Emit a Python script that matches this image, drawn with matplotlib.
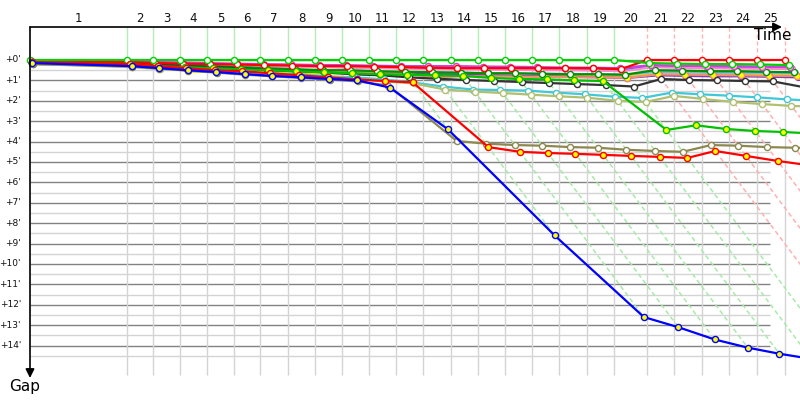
import numpy as np
import matplotlib
matplotlib.use('Agg')
import matplotlib.pyplot as plt

# ----------------------------------------------------------------
# Data: stage end times (race-time units, 1 unit = 1 minute of gap)
# and each rider's gap (minutes) at start + after each of 25 stages.
# ----------------------------------------------------------------
stage_end = [0.0, 6.34, 8.04, 9.80, 11.57, 13.33, 15.03, 16.86, 18.63, 20.39, 22.16,
             23.92, 25.69, 27.52, 29.28, 31.05, 32.81, 34.58, 36.41, 38.17, 40.33,
             42.09, 43.92, 45.69, 47.52, 49.35]
stage_labels = [str(i) for i in range(1, 26)]
gap_ticks = list(range(0, 15))
gap_labels = ["+%d'" % g for g in gap_ticks]

green_leader = [0, 0, 0, 0, 0, 0, 0, 0, 0, 0, 0, 0, 0, 0, 0, 0, 0, 0, 0, 0,
                0.15, 0.18, 0.2, 0.2, 0.22, 0.25]
red_winner = [0.05, 0.1, 0.15, 0.18, 0.2, 0.22, 0.25, 0.27, 0.3, 0.3, 0.32, 0.35, 0.38,
              0.4, 0.4, 0.4, 0.4, 0.4, 0.4, 0.45, 0, 0, 0, 0, 0, 0]
magenta = [0.05, 0.08, 0.1, 0.12, 0.15, 0.18, 0.2, 0.22, 0.25, 0.25, 0.28, 0.3, 0.3,
           0.3, 0.32, 0.33, 0.35, 0.37, 0.38, 0.4, 0.25, 0.28, 0.3, 0.3, 0.32, 0.35]
pink = [0.1, 0.15, 0.2, 0.22, 0.25, 0.28, 0.3, 0.33, 0.35, 0.38, 0.4, 0.42, 0.45,
        0.45, 0.47, 0.48, 0.5, 0.5, 0.52, 0.55, 0.35, 0.38, 0.4, 0.42, 0.43, 0.45]
royal = [0.1, 0.12, 0.15, 0.18, 0.2, 0.22, 0.25, 0.27, 0.3, 0.32, 0.35, 0.37, 0.4,
         0.4, 0.42, 0.43, 0.45, 0.45, 0.47, 0.5, 0.3, 0.32, 0.33, 0.35, 0.37, 0.38]
purple = [0.15, 0.2, 0.25, 0.3, 0.35, 0.4, 0.45, 0.5, 0.55, 0.6, 0.65, 0.68, 0.7,
          0.72, 0.75, 0.78, 0.8, 0.82, 0.85, 0.88, 0.75, 0.78, 0.8, 0.8, 0.82, 0.85]
dkgreen = [0.05, 0.15, 0.2, 0.25, 0.3, 0.35, 0.4, 0.45, 0.5, 0.5, 0.55, 0.58, 0.6,
           0.62, 0.65, 0.65, 0.68, 0.7, 0.7, 0.72, 0.5, 0.52, 0.55, 0.55, 0.58, 0.6]
orange = [0.05, 0.15, 0.22, 0.3, 0.35, 0.4, 0.44, 0.49, 0.54, 0.59, 0.64, 0.68, 0.85,
          0.8, 0.8, 0.82, 0.83, 0.85, 0.85, 0.87, 0.7, 0.72, 0.73, 0.75, 0.77, 0.78]
yellow = [0.2, 0.25, 0.35, 0.55, 0.58, 0.6, 0.62, 0.64, 0.65, 0.66, 0.68, 0.7, 0.72,
          0.72, 0.73, 0.74, 0.75, 0.76, 0.77, 0.78, 0.65, 0.67, 0.68, 0.7, 0.71, 0.72]
lightblue = [0.1, 0.2, 0.25, 0.3, 0.35, 0.4, 0.45, 0.5, 0.52, 0.55, 0.58, 0.6, 0.62,
             0.63, 0.65, 0.66, 0.67, 0.68, 0.7, 0.72, 0.58, 0.6, 0.62, 0.62, 0.63, 0.65]
black = [0.05, 0.15, 0.2, 0.3, 0.35, 0.4, 0.5, 0.55, 0.6, 0.7, 0.75, 0.85, 0.92,
         0.98, 1.03, 1.08, 1.13, 1.18, 1.23, 1.3, 0.93, 0.98, 1.0, 1.03, 1.05, 1.35]
cyan = [0.1, 0.3, 0.4, 0.45, 0.5, 0.6, 0.65, 0.7, 0.8, 0.85, 0.95, 1.1, 1.3,
        1.45, 1.47, 1.5, 1.6, 1.68, 1.8, 1.86, 1.6, 1.68, 1.75, 1.83, 1.93, 2.0]
ltolive = [0.2, 0.35, 0.45, 0.5, 0.6, 0.7, 0.75, 0.82, 0.9, 0.95, 1.05, 1.15, 1.45,
           1.55, 1.62, 1.7, 1.78, 1.85, 2.0, 2.06, 1.76, 1.91, 2.06, 2.16, 2.25, 2.3]
grnyel = [0.1, 0.2, 0.3, 0.35, 0.4, 0.45, 0.5, 0.55, 0.6, 0.65, 0.7, 0.72, 0.75,
          0.78, 0.88, 0.93, 0.95, 1.0, 1.03, 3.43, 3.2, 3.38, 3.48, 3.53, 3.6, 3.65]
olive = [0.2, 0.32, 0.42, 0.52, 0.62, 0.72, 0.8, 0.88, 0.96, 1.05, 1.25, 3.97, 4.1,
         4.17, 4.2, 4.27, 4.3, 4.4, 4.46, 4.5, 4.17, 4.2, 4.27, 4.3, 4.35, 4.4]
redyel = [0.1, 0.2, 0.3, 0.4, 0.5, 0.55, 0.65, 0.75, 0.85, 0.95, 1.03, 1.1, 4.27,
          4.5, 4.56, 4.6, 4.65, 4.7, 4.75, 4.8, 4.46, 4.7, 4.95, 5.15, 5.3, 5.4]
blue = [0.15, 0.3, 0.4, 0.5, 0.59, 0.69, 0.78, 0.85, 0.93, 1.0, 1.35, 3.4, 8.6,
        12.6, 13.1, 13.7, 14.1, 14.4, 14.65, 14.9, 15.1, 15.3, 15.5, 15.7, 15.9, 16.0]

# (gaps, line colour, marker face), drawn back to front
riders = [
    (yellow, '#eee000', '#ffff00'),
    (lightblue, '#70b8f0', 'white'),
    (royal, '#4060ff', 'white'),
    (purple, '#8040b0', 'white'),
    (pink, '#ff88c8', 'white'),
    (orange, '#f09070', '#ffff00'),
    (dkgreen, '#009000', 'white'),
    (black, '#333333', 'white'),
    (magenta, '#d040e0', '#ffd0a0'),
    (red_winner, '#ff0000', 'white'),
    (green_leader, '#00d000', 'white'),
    (cyan, '#40c8d8', 'white'),
    (ltolive, '#b0c070', 'white'),
    (grnyel, '#00c000', '#ffff00'),
    (olive, '#8c8850', 'white'),
    (redyel, '#ff0000', '#ffff00'),
    (blue, '#0000ff', '#ffff00'),
]

# pixel geometry of the original: origin (30, 60), 15.3 px per x unit, 20.4 px per minute
PX_X, PX_Y, X0, Y0 = 15.3, 20.4, 30, 60
W, H = 800, 400
TOP = (27 - Y0) / PX_Y
GRID_BOTTOM = (375 - Y0) / PX_Y
GRID_RIGHT = (770 - X0) / PX_X
RED_FROM = 20  # stage ends from here on drawn in red

fig = plt.figure(figsize=(8, 4), dpi=100)
ax = fig.add_axes([0, 0, 1, 1])
ax.set_xlim(-X0 / PX_X, (W - X0) / PX_X)
ax.set_ylim((H - Y0) / PX_Y, -Y0 / PX_Y)
ax.axis('off')

ends = np.array(stage_end[1:])

# horizontal grid
ax.hlines(np.arange(0.5, 15, 1), 0, GRID_RIGHT, color='#d4d4d4', lw=1, zorder=1)
ax.hlines(gap_ticks, 0, GRID_RIGHT, color='#828282', lw=1, zorder=1)

# vertical grid at stage ends
ax.vlines(ends, 0, GRID_BOTTOM, color='#d4d4d4', lw=1, zorder=1)
ax.vlines(ends[:RED_FROM - 1], TOP, 0, color='#b6ecb6', lw=1, zorder=1)
ax.vlines(ends[RED_FROM - 1:], TOP, 0, color='#ffb4b4', lw=1, linestyles=(0, (3, 2)), zorder=1)

# iso-stage diagonals: from stage end down to the last rider of that stage
all_gaps = np.array([r[0] for r in riders])
for k in range(1, len(stage_end)):
    gmax = all_gaps[:, k].max()
    col = '#ffb0b0' if k >= RED_FROM else '#a8eaa8'
    ax.plot([stage_end[k], stage_end[k] + gmax], [0, gmax], color=col, lw=1.1,
            linestyle=(0, (3, 2)), zorder=2)

# rider lines
for gaps, col, face in riders:
    g = np.array(gaps)
    x = np.array(stage_end) + g
    lw = 2.0 if col == '#eee000' else 1.6
    ax.plot(x, g, color=col, lw=lw, marker='o', ms=4.4, mfc=face, mec=col, mew=1.0,
            zorder=3, solid_joinstyle='round')

# axes arrows
ax.annotate('', xy=((782 - X0) / PX_X, TOP), xytext=(0, TOP),
            arrowprops=dict(arrowstyle='-|>', color='black', lw=1.2, mutation_scale=13,
                            shrinkA=0, shrinkB=0), zorder=5)
ax.annotate('', xy=(0, (378 - Y0) / PX_Y), xytext=(0, TOP),
            arrowprops=dict(arrowstyle='-|>', color='black', lw=1.2, mutation_scale=13,
                            shrinkA=0, shrinkB=0), zorder=5)

# stage labels centred on each stage
mids = (np.array(stage_end[:-1]) + np.array(stage_end[1:])) / 2
for m, lab in zip(mids, stage_labels):
    ax.text(m, (18 - Y0) / PX_Y, lab, ha='center', va='center', fontsize=8.5, color='#111111')

for g, lab in zip(gap_ticks, gap_labels):
    ax.text((21 - X0) / PX_X, g, lab, ha='right', va='center', fontsize=6.5, color='#111111')

ax.text((792 - X0) / PX_X, (35 - Y0) / PX_Y, 'Time', ha='right', va='center', fontsize=11)
ax.text((25 - X0) / PX_X, (387 - Y0) / PX_Y, 'Gap', ha='center', va='center', fontsize=11)

fig.savefig('out.png', dpi=100)
